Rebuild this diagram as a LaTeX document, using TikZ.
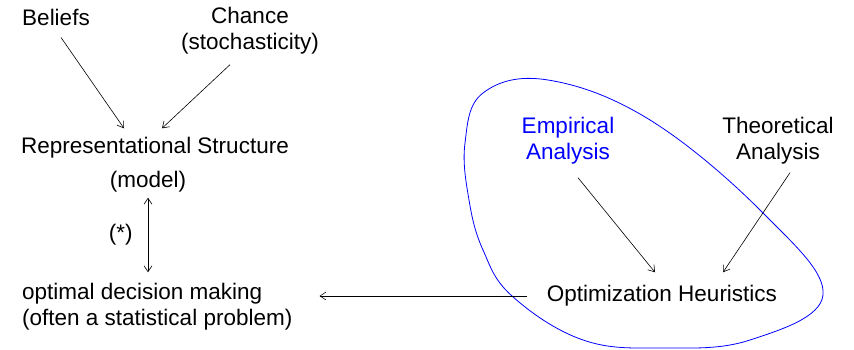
\documentclass[tikz,border=0pt]{standalone}
\usepackage{fontspec}
\setmainfont{Liberation Sans}
\usetikzlibrary{
    arrows.meta,
    calc,
    positioning
}
\definecolor{ink}{RGB}{0,0,0}
\definecolor{hullblue}{RGB}{0,0,255}
\tikzset{
    line cap=round,
    line join=round,
    concept/.style={
        text=ink,
        inner sep=3pt,
        align=center,
        font=\fontsize{22.5}{26}\selectfont
    },
    empirical/.style={
        concept,
        text=hullblue
    },
    link/.style={
        ->,
        >={Straight Barb[length=6pt,width=8pt]},
        draw=ink,
        line width=0.6pt
    },
    twoway/.style={
        link,
        <->
    },
    hull/.style={
        draw=hullblue,
        line width=0.8pt
    }
}

\begin{document}
\begin{tikzpicture}[x=1pt, y=1pt]
\useasboundingbox (0,0) rectangle (854,350);

% modelling side
\node[concept] (beliefs) at (56,333) {Beliefs};
\node[concept] (chance) at (250,319) {Chance\\(stochasticity)};
\node[concept] (repr) at (155,202) {Representational Structure};
\node[concept] (model) at (148,168) {(model)};
\node[concept, anchor=west, align=left] (optimal) at (19,43) {optimal decision making\\(often a statistical problem)};

\draw[link] ([shift={(5,-9)}]beliefs.south) -- ([shift={(-31,6)}]repr.north);
\draw[link] ([shift={(-20,-7)}]chance.south) -- ([shift={(7,6)}]repr.north);
\draw[twoway] ([yshift=-2]model.south) -- ([yshift=8]model.south |- optimal.north)
    node[concept, midway, left=12pt] (star) {(*)};

% heuristics side
\draw[hull] plot[smooth cycle, tension=0.65] coordinates {
    (465,207) (483,257) (548,270) (650,230) (763,137) (823,55)
    (750,10) (663,2) (583,10) (512,54) (483,100) (469,150)
};
\node[empirical] (empir) at (568,209) {Empirical\\Analysis};
\node[concept] (theor) at (778,209) {Theoretical\\Analysis};
\node[concept] (heur) at (662,54) {Optimization Heuristics};

\draw[link] ([shift={(10,-10)}]empir.south) -- ([shift={(-7,10)}]heur.north);
\draw[link] ([shift={(12,-5)}]theor.south) -- ([shift={(61,10)}]heur.north);
\draw[link] ([xshift=-17]heur.west) -- ([xshift=24]optimal.east |- heur.west);

\end{tikzpicture}
\end{document}
